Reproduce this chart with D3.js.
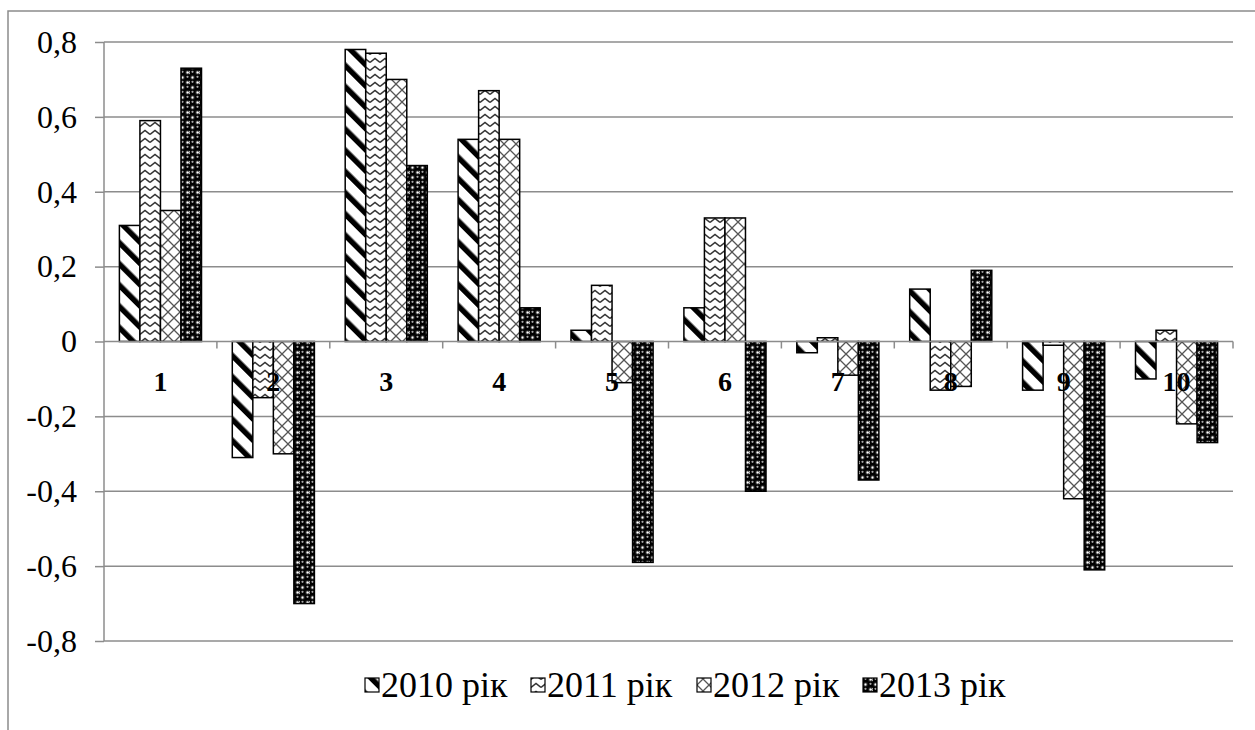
<!DOCTYPE html>
<html>
<head>
<meta charset="utf-8">
<script src="https://cdn.jsdelivr.net/npm/d3@7"></script>
<style>
  html, body { margin: 0; padding: 0; background: #fff; }
  svg { display: block; }
  .serif { font-family: "Liberation Serif", "Times New Roman", Tinos, "DejaVu Serif", serif; }
</style>
</head>
<body>
<svg id="chart" width="1255" height="730"></svg>
<script>
const categories = ["1", "2", "3", "4", "5", "6", "7", "8", "9", "10"];
const seriesNames = ["2010 рік", "2011 рік", "2012 рік", "2013 рік"];
const values2010 = [0.31, -0.31, 0.78, 0.54, 0.03, 0.09, -0.03, 0.14, -0.13, -0.10];
const values2011 = [0.59, -0.15, 0.77, 0.67, 0.15, 0.33, 0.01, -0.13, -0.01, 0.03];
const values2012 = [0.35, -0.30, 0.70, 0.54, -0.11, 0.33, -0.09, -0.12, -0.42, -0.22];
const values2013 = [0.73, -0.70, 0.47, 0.09, -0.59, -0.40, -0.37, 0.19, -0.61, -0.27];
const yTicks = [-0.8, -0.6, -0.4, -0.2, 0, 0.2, 0.4, 0.6, 0.8];

const seriesValues = [values2010, values2011, values2012, values2013];
const patternIds = ["p2010", "p2011", "p2012", "p2013"];

const svg = d3.select("#chart");
const W = 1255, H = 730;
const plot = { left: 104, right: 1233, top: 42, bottom: 641 };
const gridColor = "#8c8c8c";

// patterns
const defs = svg.append("defs");
{
  const p = defs.append("pattern").attr("id", "p2010").attr("patternUnits", "userSpaceOnUse")
    .attr("width", 15).attr("height", 15).attr("patternTransform", "rotate(-45)");
  p.append("rect").attr("width", 15).attr("height", 15).attr("fill", "#fff");
  p.append("rect").attr("x", 0).attr("width", 5.5).attr("height", 15).attr("fill", "#000");
}
{
  const p = defs.append("pattern").attr("id", "p2011").attr("patternUnits", "userSpaceOnUse")
    .attr("width", 10).attr("height", 8);
  p.append("rect").attr("width", 10).attr("height", 8).attr("fill", "#fff");
  p.append("path").attr("d", "M0,6.5 L5,2.5 L10,6.5").attr("fill", "none")
    .attr("stroke", "#333").attr("stroke-width", 1.6);
}
{
  const p = defs.append("pattern").attr("id", "p2012").attr("patternUnits", "userSpaceOnUse")
    .attr("width", 12).attr("height", 12);
  p.append("rect").attr("width", 12).attr("height", 12).attr("fill", "#fff");
  p.append("path").attr("d", "M0,0 L12,12 M12,0 L0,12").attr("fill", "none")
    .attr("stroke", "#555").attr("stroke-width", 1.3);
}
{
  const p = defs.append("pattern").attr("id", "p2013").attr("patternUnits", "userSpaceOnUse")
    .attr("width", 10).attr("height", 10);
  p.append("rect").attr("width", 10).attr("height", 10).attr("fill", "#fff");
  const blobs = [[2.5, 2.5], [7.5, 7.5], [7.5, -2.5], [-2.5, 7.5], [12.5, 7.5], [2.5, 12.5]];
  blobs.forEach(([cx, cy]) => {
    p.append("circle").attr("cx", cx).attr("cy", cy).attr("r", 3.8).attr("fill", "#000");
  });
  [[2.5, 2.5], [7.5, 7.5]].forEach(([cx, cy]) => {
    p.append("circle").attr("cx", cx).attr("cy", cy - 0.7).attr("r", 1.1).attr("fill", "#aaa");
  });
  [[7.5, 2.5], [2.5, 7.5]].forEach(([cx, cy]) => {
    p.append("circle").attr("cx", cx).attr("cy", cy).attr("r", 1.8).attr("fill", "none")
      .attr("stroke", "#333").attr("stroke-width", 1);
  });
}

// outer frame
svg.append("path").attr("d", `M8,${H} L8,11 L${W},11`).attr("fill", "none")
  .attr("stroke", gridColor).attr("stroke-width", 1.5);

const x = d3.scaleBand().domain(categories).range([plot.left, plot.right]).paddingInner(0).paddingOuter(0);
const y = d3.scaleLinear().domain([-0.8, 0.8]).range([plot.bottom, plot.top]);
const bw = x.bandwidth() / (seriesNames.length + 1.5);
const inner = d3.scaleBand().domain(d3.range(seriesNames.length))
  .range([bw * 0.75, x.bandwidth() - bw * 0.75]);

// gridlines
svg.append("g").selectAll("line").data(yTicks.filter(t => t !== 0)).join("line")
  .attr("x1", plot.left).attr("x2", plot.right)
  .attr("y1", d => y(d)).attr("y2", d => y(d))
  .attr("stroke", gridColor).attr("stroke-width", 1.5);

// y axis
const yAxis = d3.axisLeft(y).tickValues(yTicks).tickSize(9).tickPadding(18)
  .tickFormat(d => d === 0 ? "0" : d3.format(".1f")(d).replace(".", ",").replace("\u2212", "-"));
const gy = svg.append("g").attr("transform", `translate(${plot.left},0)`).call(yAxis);
gy.attr("font-family", null).attr("font-size", null);
gy.select(".domain").attr("stroke", gridColor).attr("stroke-width", 1.5).attr("d", `M0,${plot.top}V${plot.bottom}`);
gy.selectAll(".tick line").attr("stroke", gridColor).attr("stroke-width", 1.5);
gy.selectAll(".tick text").attr("class", "serif").style("font-size", "32px").attr("fill", "#000");

// bars
const series = seriesNames.map((name, i) => ({ name, i, values: seriesValues[i] }));
svg.append("g").selectAll("g").data(series).join("g")
  .attr("fill", d => `url(#${patternIds[d.i]})`)
  .selectAll("rect").data(d => d.values.map((v, k) => ({ v, k, i: d.i }))).join("rect")
  .attr("x", d => x(categories[d.k]) + inner(d.i))
  .attr("width", inner.bandwidth())
  .attr("y", d => y(Math.max(0, d.v)))
  .attr("height", d => Math.abs(y(d.v) - y(0)))
  .attr("stroke", "#000").attr("stroke-width", 1.5);

// x axis at zero
const xAxis = d3.axisBottom(x).tickSize(0).tickFormat("");
const gx = svg.append("g").attr("transform", `translate(0,${y(0)})`).call(xAxis);
gx.select(".domain").attr("stroke", gridColor).attr("stroke-width", 1.5).attr("d", `M${plot.left},0H${plot.right}`);
gx.selectAll(".tick").remove();
const boundaries = categories.map(c => x(c) + x.bandwidth());
gx.selectAll("line.bt").data(boundaries).join("line").attr("class", "bt")
  .attr("x1", d => d).attr("x2", d => d).attr("y1", 0).attr("y2", 7)
  .attr("stroke", gridColor).attr("stroke-width", 1.5);

// category labels
svg.append("g").selectAll("text").data(categories).join("text")
  .attr("class", "serif")
  .attr("x", d => x(d) + x.bandwidth() / 2)
  .attr("y", y(0) + 49)
  .attr("text-anchor", "middle")
  .style("font-weight", "bold").style("font-size", "28px")
  .attr("fill", "#000").text(d => d);

// legend
const legendX = [365, 531, 697, 863];
const lg = svg.append("g").selectAll("g").data(series).join("g")
  .attr("transform", d => `translate(${legendX[d.i]},697)`);
lg.append("rect").attr("x", 0).attr("y", -19).attr("width", 14).attr("height", 14)
  .attr("fill", d => `url(#${patternIds[d.i]})`).attr("stroke", "#000").attr("stroke-width", 1.2);
lg.append("text").attr("class", "serif").attr("x", 16).attr("y", 0)
  .style("font-size", "36px").attr("fill", "#000")
  .text(d => d.name);
</script>
</body>
</html>
